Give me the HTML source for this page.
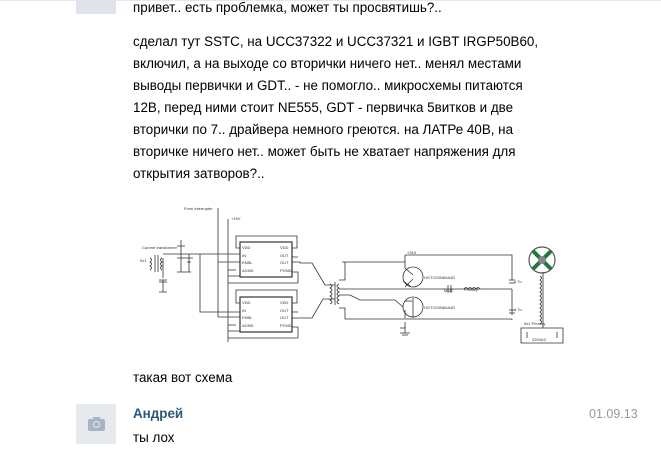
<!DOCTYPE html>
<html><head><meta charset="utf-8"><style>
body{margin:0;width:661px;height:460px;background:#fff;position:relative;overflow:hidden;font-family:Tahoma,"Liberation Sans","DejaVu Sans",sans-serif;font-size:13.4px;color:#000}
.t{position:absolute;left:133px;white-space:nowrap;line-height:22px}
.av{position:absolute;background:#e6eaef}
svg{position:absolute;left:0;top:0}
</style></head><body>
<div style="position:absolute;left:0;top:0;width:661px;height:1px;background:#e4e8ec"></div>
<div class="av" style="left:76px;top:0;width:40px;height:14px;background:#dfe4ea"></div>
<div class="t" style="top:-3px">привет.. есть проблемка, может ты просвятишь?..</div>
<div class="t" style="top:31px">сделал тут SSTC, на UCC37322 и UCC37321 и IGBT IRGP50B60,<br>включил, а на выходе со вторички ничего нет.. менял местами<br>выводы первички и GDT.. - не помогло.. микросхемы питаются<br>12В, перед ними стоит NE555, GDT - первичка 5витков и две<br>вторички по 7.. драйвера немного греются. на ЛАТРе 40В, на<br>вторичке ничего нет.. может быть не хватает напряжения для<br>открытия затворов?..</div>

<svg width="661" height="460" viewBox="0 0 661 460" fill="none" stroke="#333" stroke-width="0.8" font-family="Liberation Sans,sans-serif">
<g font-size="4" fill="#333" stroke="none">
<text x="184" y="210">From interrupter</text>
<text x="231" y="220">+15V</text>
<text x="142" y="249">Current transformer</text>
<text x="140" y="262">0x1</text>
<text x="242" y="249">VDD</text><text x="242" y="257">IN</text><text x="242" y="264">ENBL</text><text x="242" y="272">AGND</text>
<text x="280" y="249">VDD</text><text x="280" y="257">OUT</text><text x="280" y="264">OUT</text><text x="280" y="272">PGND</text>
<text x="242" y="304">VDD</text><text x="242" y="312">IN</text><text x="242" y="319">ENBL</text><text x="242" y="327">AGND</text>
<text x="280" y="304">VDD</text><text x="280" y="312">OUT</text><text x="280" y="319">OUT</text><text x="280" y="327">PGND</text>
<text x="407" y="254">+310</text>
<text x="424" y="279">HGTG20N60A4D</text><text x="424" y="309">HGTG20N60A4D</text>
<text x="444" y="292">MMC</text><text x="464" y="291">Primary</text>
<text x="514" y="283">4.7u</text><text x="514" y="311">4.7u</text>
<text x="524" y="325">0x1 Primary</text><text x="532" y="341">220VAC</text>
</g>
<line x1="218" y1="208" x2="218" y2="317"/>
<line x1="228" y1="219" x2="228" y2="342"/>
<rect x="240" y="242" width="52" height="35" stroke-width="1.2"/>
<rect x="240" y="297" width="52" height="35" stroke-width="1.2"/>
<path d="M240 248H236V236H297V248H292 M292 257H298 M292 262H300V263H312L325 285H335 M292 272H298V283 M228 276H240 M228 283H298"/>
<path d="M240 303H236V290H297V303H292 M292 312H298 M292 318H312L323 299H335 M292 327H298V338 M228 331H240 M228 338H298"/>
<path d="M163 254H240 M218 262H240 M200 254V312H240 M218 317H240"/>
<path d="M228 270H236 M228 325H236"/>
<path d="M155 255V272 M158 255V272 M150 258q3 2 0 4q3 2 0 4q3 2 0 4 M162 258q-3 2 0 4q-3 2 0 4q-3 2 0 4 M163 258V278 M163 280V292 M159 280H167 M159 282H167 M159 292H167"/>
<path d="M181 240V272 M177 246h8 M177 258h8 M189 254V272 M185 258h8 M187 262h4 M177 272H191"/>
<path d="M335 282V305 M330 284q4 2 0 4q4 2 0 4q4 2 0 4q4 2 0 4q4 2 0 4 M339 284q-4 2 0 4q-4 2 0 4q-4 2 0 4q-4 2 0 4q-4 2 0 4"/>
<path d="M339 280H345V262H342 M339 295H350L360 300H395L403 307 M339 308H345V319H512 M339 289H512 M345 262H405 M405 255V268 L413 275 M413 279L405 287 M405 310V318"/>
<path d="M403 281L410 286 M405 301H412 M413 298V318 M405 322V328H400"/>
<circle cx="413" cy="277" r="10"/><circle cx="413" cy="307" r="10"/>
<path d="M405 255H512V280 M512 289V315 M512 319V320 M509 280h6 M509 283h6 M509 310h6 M509 313h6 M405 327V333 M400 333h10 M402 335h6"/>
<path d="M448 285V293 M451 285V293 M464 289q2-3 4 0q2-3 4 0q2-3 4 0q2-3 4 0"/>
<circle cx="542" cy="260" r="13" stroke="#555" stroke-width="1.2"/>
<path d="M533 251L551 269 M551 251L533 269" stroke="#1d7a3a" stroke-width="4"/>
<circle cx="542" cy="260" r="4" fill="#888" stroke="none"/>
<path d="M543 272V328 M540 276q3 2 0 4q3 2 0 4q3 2 0 4q3 2 0 4q3 2 0 4q3 2 0 4q3 2 0 4q3 2 0 4q3 2 0 4q3 2 0 4q3 2 0 4q3 2 0 4"/>
<path d="M521 328H563V343H521Z M527 332V338 M557 332V338"/>
</svg>

<div class="t" style="top:367px">такая вот схема</div>
<div class="av" style="left:76px;top:404px;width:40px;height:40px">
 <div style="position:absolute;left:12px;top:15px;width:17px;height:12px;background:#a7b4c2;border-radius:2px"></div>
 <div style="position:absolute;left:17px;top:13px;width:7px;height:3px;background:#a7b4c2"></div>
 <div style="position:absolute;left:17px;top:17px;width:5px;height:5px;border:1px solid #e6eaef;border-radius:50%"></div>
</div>
<div class="t" style="top:403px;font-weight:bold;color:#2b587a">Андрей</div>
<div style="position:absolute;left:589px;top:403px;line-height:22px;color:#999;font-size:12.5px">01.09.13</div>
<div class="t" style="top:427px">ты лох</div>
</body></html>
